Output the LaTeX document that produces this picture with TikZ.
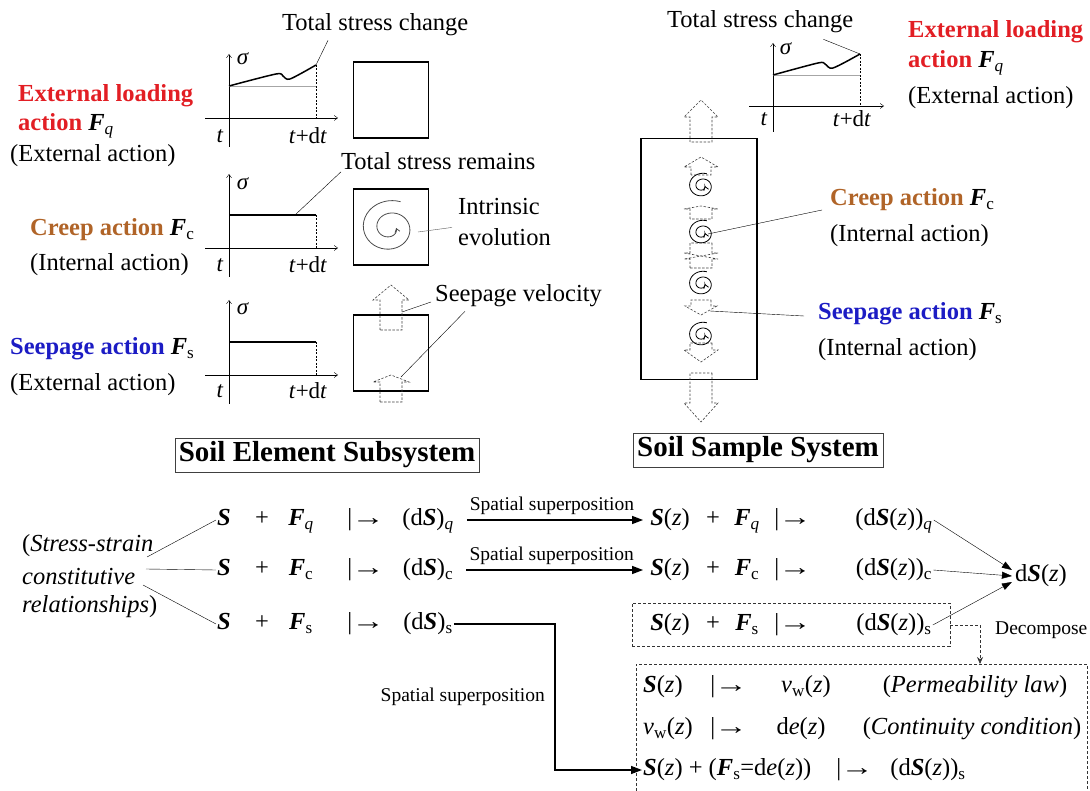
\documentclass[tikz,border=0pt]{standalone}
\usepackage{fontspec}
\usepackage{graphicx}
\setmainfont{Liberation Serif}
\usetikzlibrary{positioning,arrows.meta,fit,calc}

\definecolor{loadred}{RGB}{226,30,36}
\definecolor{creepbrown}{RGB}{176,100,40}
\definecolor{seepblue}{RGB}{28,28,196}

\newcommand{\vS}{\textbf{\textit{S}}}
\newcommand{\vF}{\textbf{\textit{F}}}
\newcommand{\sbi}[1]{\textsubscript{\normalfont\textit{#1}}}
\newcommand{\sbu}[1]{\textsubscript{\normalfont #1}}
\newcommand{\mapsarr}{|\kern-0.5pt\scalebox{1.35}[1]{→}}

\tikzset{
  pics/swirl/.style={code={%
    \draw[-{Straight Barb[length=3.5pt,width=5pt]}] plot[smooth,domain=0:650,samples=70,variable=\t]
      ({1.1*#1*(1-0.8*\t/650)*cos(70+\t)},{-#1*(1-0.8*\t/650)*sin(70+\t)});
  }},
  pics/flow/.style n args={4}{code={%
    \draw[flowline] (-#1,0) -- (-#1,-#2) -- (-#3,-#2) -- (0,-#2-#4) -- (#3,-#2) -- (#1,-#2) -- (#1,0) -- cycle;
  }}
}

\begin{document}
\begin{tikzpicture}[x=1pt,y=-1pt,
  font=\fontsize{24.5}{28}\selectfont,
  txt/.style={inner sep=0pt,anchor=west},
  act/.style={inner sep=0pt,anchor=west,font=\fontsize{24.5}{28}\selectfont\bfseries},
  gl/.style={inner sep=0pt,font=\fontsize{23}{27}\selectfont},
  small/.style={inner sep=0pt,font=\fontsize{19.5}{23}\selectfont},
  eq/.style={inner sep=1pt,text height=16pt,text depth=5pt},
  title/.style={draw=black!75,thin,inner sep=4pt,font=\fontsize{29}{33}\selectfont\bfseries},
  axis/.style={thin,-{Straight Barb[length=3.5pt,width=5pt]}},
  curve/.style={line width=1.5pt},
  level/.style={line width=0.7pt,black!35},
  dots/.style={thin,dashed,dash pattern=on 2pt off 1.5pt},
  lead/.style={thin},
  elem/.style={draw,line width=1.5pt,minimum width=75pt,minimum height=76pt,inner sep=0pt},
  flowline/.style={line width=0.6pt,black!75,dash pattern=on 2.4pt off 1.6pt},
  sup/.style={line width=1.4pt,-{Triangle[length=11pt,width=8pt]}},
  merge/.style={thin,-{Triangle[length=10pt,width=7pt]}},
  dbox/.style={draw,line width=0.6pt,black!80,dash pattern=on 3pt off 2pt}
]
\useasboundingbox (0,0) rectangle (1090,791);

%% ---------- soil element: external loading ----------
\node[txt] (tsc1) at (282,25) {Total stress change};
\begin{scope}[shift={(229,118)}]
  \draw[axis] (-24,0) -- (109,0);
  \draw[axis] (0,29) -- (0,-64);
  \draw[level] (0,-32) -- (87,-32);
  \draw[dots] (87,-53) -- (87,0);
  \draw[curve] plot[smooth,tension=0.5] coordinates {(0,-32) (47,-44) (54,-42) (61,-39) (87,-53)};
  \coordinate (q1) at (87,-53);
  \node[gl] (sg1) at (14,-59) {\textit{σ}};
  \node[gl] (t1) at (-9,18) {\textit{t}};
  \node[gl] (tdt1) at (79,18) {\textit{t}+d\textit{t}};
\end{scope}
\draw[lead] (q1) -- ($(tsc1.south west)+(46,4)$);
\node[elem] (sq1) at (391,100) {};
\node[act,text=loadred] (extl1) at (18,96) {External loading};
\node[act,text=loadred] (extl2) at (18,126) {action \textcolor{black}{\vF\sbi{q}}};
\node[txt] (extl3) at (10,156) {(External action)};

%% ---------- soil element: creep ----------
\node[txt] (tsr) at (341,161) {Total stress remains};
\begin{scope}[shift={(229,248)}]
  \draw[axis] (-24,0) -- (109,0);
  \draw[axis] (0,29) -- (0,-74);
  \draw[curve] (0,-33) -- (87,-33);
  \draw[dots] (87,-33) -- (87,0);
  \coordinate (c1) at (66,-33);
  \node[gl] (sg2) at (14,-64) {\textit{σ}};
  \node[gl] (t2) at (-9,17) {\textit{t}};
  \node[gl] (tdt2) at (79,17) {\textit{t}+d\textit{t}};
\end{scope}
\draw[lead] (c1) -- ($(tsr.south west)+(0,2)$);
\node[elem] (sq2) at (391,227) {};
\pic[black!70,line width=0.8pt] (sw0) at (390,228) {swirl=28};
\coordinate (sw0c) at (418,232);
\node[txt] (intr) at (458,207) {Intrinsic};
\node[txt] (evol) at (458,237) {evolution};
\draw[lead,black!65] (sw0c) -- ($(intr.south west)+(-6,12)$);
\node[act,text=creepbrown] (crl1) at (30,230) {Creep action \textcolor{black}{\vF\sbu{c}}};
\node[txt] (crl2) at (30,265) {(Internal action)};

%% ---------- soil element: seepage ----------
\begin{scope}[shift={(229,375)}]
  \draw[axis] (-24,0) -- (109,0);
  \draw[axis] (0,29) -- (0,-75);
  \draw[curve] (0,-33) -- (87,-33);
  \draw[dots] (87,-33) -- (87,0);
  \node[gl] (sg3) at (14,-66) {\textit{σ}};
  \node[gl] (t3) at (-9,16) {\textit{t}};
  \node[gl] (tdt3) at (79,16) {\textit{t}+d\textit{t}};
\end{scope}
\node[elem] (sq3) at (391,353) {};
\pic (fl1) at (391,330) {flow={11}{30}{18}{15}};
\pic (fl2) at (391,402) {flow={11}{20}{18}{7}};
\coordinate (fl1r) at (402,312);
\coordinate (fl2r) at (401,377);
\node[txt] (sv) at (435,296) {Seepage velocity};
\draw[lead] (fl1r) -- ($(sv.west)+(-4,6)$);
\draw[lead] (fl2r) -- ($(sv.south west)+(30,4)$);
\node[act,text=seepblue] (spl1) at (10,349) {Seepage action \textcolor{black}{\vF\sbu{s}}};
\node[txt] (spl2) at (10,385) {(External action)};

\node[title] (elemsys) at (327,455) {Soil Element Subsystem};

%% ---------- soil sample ----------
\node[txt] (tsc2) at (667,22) {Total stress change};
\begin{scope}[shift={(773,106)}]
  \draw[axis] (-24,0) -- (111,0);
  \draw[axis] (0,26) -- (0,-63);
  \draw[level] (0,-31) -- (87,-31);
  \draw[dots] (87,-52) -- (87,0);
  \draw[curve] plot[smooth,tension=0.5] coordinates {(0,-31) (45,-43) (52,-42) (60,-38) (87,-52)};
  \coordinate (q2) at (87,-52);
  \node[gl] (sg4) at (13,-57) {\textit{σ}};
  \node[gl] (t4) at (-9,13) {\textit{t}};
  \node[gl] (tdt4) at (79,13) {\textit{t}+d\textit{t}};
\end{scope}
\draw[lead] (q2) -- ($(tsc2.south east)+(-30,6)$);
\node[act,text=loadred] (extr1) at (908,32) {External loading};
\node[act,text=loadred] (extr2) at (908,63) {action \textcolor{black}{\vF\sbi{q}}};
\node[txt] (extr3) at (908,98) {(External action)};

\node[draw,line width=1.5pt,minimum width=116pt,minimum height=241pt,inner sep=0pt] (sample) at (699,259) {};
\pic (fs1) at (701,142) {flow={11}{25}{17}{17}};
\pic (fs2) at (701,175) {flow={10}{8}{17}{10}};
\pic (fs3) at (701,219) {flow={11}{10}{17}{3}};
\pic[rotate=180] (fs4) at (701,243) {flow={11}{10}{17}{3}};
\pic (fs5) at (701,268) {flow={11}{9}{17}{3}};
\pic[rotate=180] (fs6) at (701,300) {flow={10}{6}{16}{9}};
\pic[rotate=180] (fs7) at (701,343) {flow={11}{7}{17}{12}};
\pic[rotate=180] (fs8) at (701,373) {flow={11}{30}{17}{19}};
\foreach \sy [count=\n] in {186,233,284,335}
  \pic[line width=0.8pt] (sw\n) at (702,\sy) {swirl=13};
\coordinate (sw2c) at (708,234);
\coordinate (fs6r) at (710,311);
\node[act,text=creepbrown] (crr1) at (830,200) {Creep action \textcolor{black}{\vF\sbu{c}}};
\node[txt] (crr2) at (830,236) {(Internal action)};
\node[act,text=seepblue] (spr1) at (818,314) {Seepage action \textcolor{black}{\vF\sbu{s}}};
\node[txt] (spr2) at (818,350) {(Internal action)};
\draw[lead] (sw2c) -- ($(crr1.west)+(-8,10)$);
\draw[lead] (fs6r) -- ($(spr1.west)+(-14,2)$);

\node[title] (samplesys) at (758,450) {Soil Sample System};

%% ---------- constitutive relations ----------
\node[txt] (ssc1) at (22,546) {(\textit{Stress-strain}};
\node[txt] (ssc2) at (22,577) {\textit{constitutive}};
\node[txt] (ssc3) at (22,607) {\textit{relationships})};

\foreach \k/\y/\ix in {q/520/\sbi{q}, c/570/\sbu{c}, s/624/\sbu{s}} {
  \node[eq] (lS\k) at (224,\y) {\vS};
  \node[eq] (lp\k) at (262,\y) {+};
  \node[eq] (lF\k) at (301,\y) {\vF\ix};
  \node[eq] (lm\k) at (366,\y) {\mapsarr};
  \node[eq] (ld\k) at (428,\y) {(d\vS)\ix};
}
\coordinate (fan1) at (147,557);
\coordinate (fan2) at (146,569);
\coordinate (fan3) at (143,585);
\draw[lead] (fan1) -- (lSq.west);
\draw[lead] (fan2) -- (lSc.west);
\draw[lead] (fan3) -- (lSs.west);

\foreach \k/\y/\ix in {q/520/\sbi{q}, c/570/\sbu{c}, s/625/\sbu{s}} {
  \node[eq] (rS\k) at (670,\y) {\vS(\textit{z})};
  \node[eq] (rp\k) at (713,\y) {+};
  \node[eq] (rF\k) at (747,\y) {\vF\ix};
  \node[eq] (rm\k) at (793,\y) {\mapsarr};
  \node[eq] (rd\k) at (894,\y) {(d\vS(\textit{z}))\ix};
}

\draw[sup,shorten <=12pt,shorten >=6pt] (ldq.east) -- node[small,above=5pt] (ssup1) {Spatial superposition} (rSq.west);
\draw[sup,shorten <=12pt,shorten >=6pt] (ldc.east) -- node[small,above=5pt] (ssup2) {Spatial superposition} (rSc.west);

\node[eq] (dSz) at (1041,576) {d\vS(\textit{z})};
\draw[merge] (rdq.east) -- ([shift={(-2,-6)}]dSz.west);
\draw[merge] (rdc.east) -- ([shift={(-2,0)}]dSz.west);
\draw[merge] (rds.east) -- ([shift={(-2,6)}]dSz.west);

\node[dbox,fit=(rSs)(rds),inner xsep=17pt,inner ysep=10pt] (sbox) {};
\coordinate (lbtop) at (980,664);
\draw[dbox,-{Stealth[length=7pt,width=6pt]}] (sbox.east) -| (lbtop);
\node[small,anchor=west] (decomp) at (995,630) {Decompose};

%% ---------- decomposition of seepage ----------
\draw[dbox] (636,791) |- (1087,664) -- (1087,791);
\node[eq,anchor=west] (pm1) at (642,687) {\vS(\textit{z})};
\node[eq] (pm2) at (729,687) {\mapsarr};
\node[eq] (pm3) at (806,687) {\textit{v}\sbu{w}(\textit{z})};
\node[eq] (pm4) at (975,687) {(\textit{Permeability law})};
\node[eq,anchor=west] (cc1) at (642,729) {\textit{v}\sbu{w}(\textit{z})};
\node[eq] (cc2) at (729,729) {\mapsarr};
\node[eq] (cc3) at (801,729) {d\textit{e}(\textit{z})};
\node[eq] (cc4) at (972,729) {(\textit{Continuity condition})};
\node[eq,anchor=west] (fz1) at (642,770) {\vS(\textit{z}) + (\vF\sbu{s}=d\textit{e}(\textit{z}))};
\node[eq] (fz2) at (855,770) {\mapsarr};
\node[eq] (fz3) at (928,770) {(d\vS(\textit{z}))\sbu{s}};

\coordinate (elb) at (555,697);
\draw[sup] (lds.east) -| (elb) |- (fz1.west);
\node[small,anchor=east] (ssup3) at (545,697) {Spatial superposition};

\end{tikzpicture}
\end{document}
